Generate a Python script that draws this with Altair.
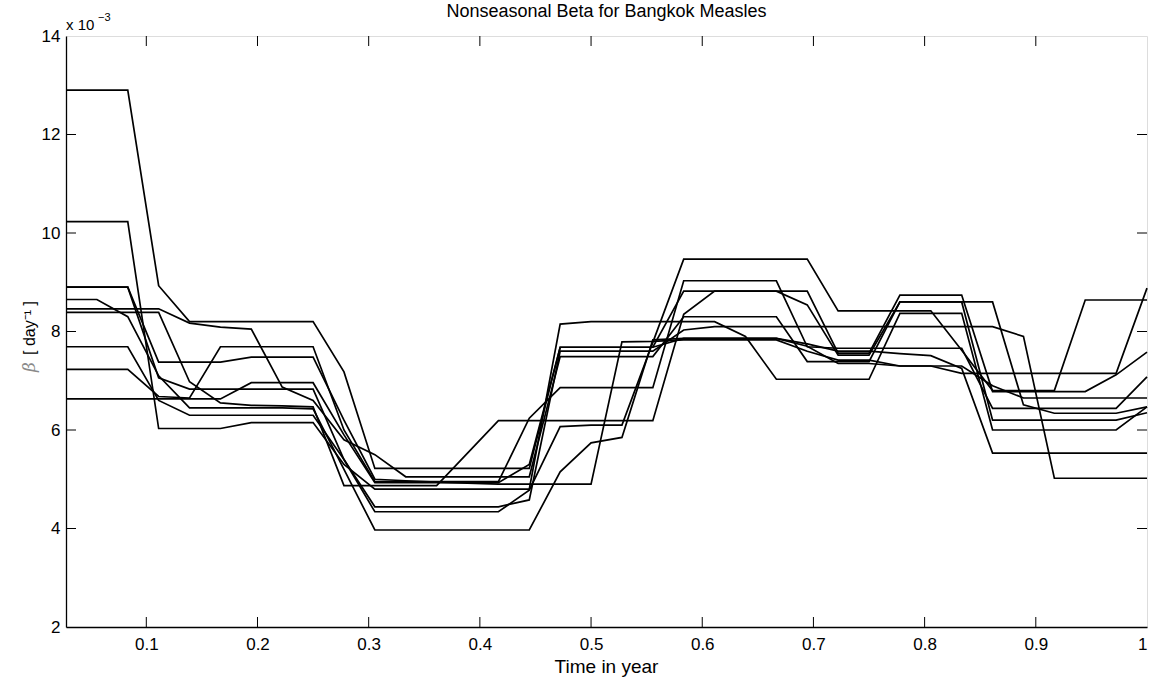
import altair as alt
import pandas as pd

# time grid (fraction of year), 36 steps
time = [round(k / 36, 5) for k in range(1, 37)]

# beta values (x 1e-3) for each of the 10 runs
line_a = [12.9, 12.9, 12.9, 8.93, 8.2, 8.2, 8.2, 8.2, 8.2, 7.18, 5.22, 5.22, 5.22, 5.22, 5.22, 5.22,
          7.68, 7.68, 7.68, 7.68, 8.82, 8.82, 8.82, 8.82, 8.82, 7.56, 7.56, 8.74, 8.74, 8.74,
          6.78, 6.78, 6.78, 6.78, 7.12, 7.58]
line_b = [10.23, 10.23, 10.23, 6.03, 6.03, 6.03, 6.15, 6.15, 6.15, 5.3, 4.80, 4.80, 4.80, 4.80, 4.80, 4.80,
          8.15, 8.2, 8.2, 8.2, 8.2, 8.2, 7.9, 7.03, 7.03, 7.03, 7.03, 8.37, 8.37, 8.37,
          6.0, 6.0, 6.0, 6.0, 6.0, 6.47]
line_c = [8.46, 8.46, 8.46, 8.46, 8.17, 8.09, 8.05, 6.87, 6.6, 5.8, 5.5, 5.05, 5.05, 5.05, 5.05, 5.05,
          7.49, 7.49, 7.49, 7.49, 8.3, 8.3, 8.3, 8.3, 7.39, 7.39, 7.39, 8.6, 8.6, 8.6,
          6.2, 6.2, 6.2, 6.2, 6.2, 6.35]
line_d = [8.39, 8.39, 8.39, 8.39, 6.98, 6.55, 6.5, 6.49, 6.47, 4.87, 4.87, 4.87, 4.87, 5.53, 6.19, 6.19,
          6.19, 6.19, 6.19, 6.19, 8.35, 8.82, 8.82, 8.82, 8.54, 7.52, 7.52, 8.6, 8.6, 8.6,
          8.6, 6.51, 6.34, 6.34, 6.34, 6.47]
line_e = [8.9, 8.9, 8.9, 7.38, 7.38, 7.38, 7.48, 7.48, 7.48, 6.2, 5.0, 4.97, 4.94, 4.92, 4.9, 4.9,
          4.9, 4.9, 7.79, 7.8, 7.83, 7.83, 7.83, 7.83, 7.6, 7.42, 7.42, 7.3, 7.3, 7.15,
          7.15, 7.15, 7.15, 7.15, 7.15, 8.88]
line_f = [8.9, 8.9, 8.9, 7.06, 6.83, 6.83, 6.83, 6.83, 6.83, 5.4, 4.34, 4.34, 4.34, 4.34, 4.34, 4.78,
          6.07, 6.1, 6.1, 7.78, 9.47, 9.47, 9.47, 9.47, 9.47, 8.42, 8.42, 8.42, 8.42, 7.62,
          6.8, 6.8, 6.8, 8.64, 8.64, 8.64]
line_g = [8.65, 8.65, 8.3, 7.1, 6.45, 6.45, 6.45, 6.45, 6.43, 5.2, 3.97, 3.97, 3.97, 3.97, 3.97, 3.97,
          5.15, 5.74, 5.85, 7.83, 7.86, 7.86, 7.86, 7.86, 7.75, 7.6, 7.6, 7.55, 7.51, 7.25,
          5.53, 5.53, 5.53, 5.53, 5.53, 5.53]
line_h = [7.69, 7.69, 7.69, 6.6, 6.3, 6.3, 6.3, 6.3, 6.3, 5.4, 4.44, 4.44, 4.44, 4.44, 4.44, 4.58,
          7.6, 7.6, 7.6, 7.6, 8.03, 8.1, 8.1, 8.1, 8.1, 8.1, 8.1, 8.1, 8.1, 8.1,
          8.1, 7.9, 5.02, 5.02, 5.02, 5.02]
line_i = [7.23, 7.23, 7.23, 6.68, 6.65, 7.69, 7.69, 7.69, 7.69, 6.0, 4.95, 4.95, 4.95, 4.95, 4.95, 6.24,
          6.86, 6.86, 6.86, 6.86, 9.03, 9.03, 9.03, 9.03, 7.69, 7.66, 7.66, 7.66, 7.66, 7.66,
          6.44, 6.44, 6.44, 6.44, 6.44, 7.08]
line_j = [6.63, 6.63, 6.63, 6.63, 6.63, 6.63, 6.96, 6.96, 6.96, 5.9, 4.93, 4.93, 4.93, 4.93, 4.93, 5.3,
          7.68, 7.68, 7.68, 7.68, 7.86, 7.86, 7.86, 7.86, 7.7, 7.35, 7.35, 7.3, 7.3, 7.3,
          6.9, 6.65, 6.65, 6.65, 6.65, 6.65]

runs = {"a": line_a, "b": line_b, "c": line_c, "d": line_d, "e": line_e,
        "f": line_f, "g": line_g, "h": line_h, "i": line_i, "j": line_j}

x_ticks = [0.1, 0.2, 0.3, 0.4, 0.5, 0.6, 0.7, 0.8, 0.9, 1.0]
y_ticks = [2, 4, 6, 8, 10, 12, 14]

rows = []
for name, vals in runs.items():
    for t, v in zip(time, vals):
        rows.append({"run": name, "t": t, "v": v})
df = pd.DataFrame(rows)

W, H = 1081, 591
FONT = "Liberation Sans"

xscale = alt.Scale(domain=[time[0], 1.0], nice=False, zero=False)
yscale = alt.Scale(domain=[2, 14], nice=False, zero=False)

lines = alt.Chart(df).mark_line(color="black", strokeWidth=1.7).encode(
    x=alt.X("t:Q", scale=xscale,
            axis=alt.Axis(values=x_ticks, format="~g", tickSize=0, grid=False,
                          labelFontSize=17, labelPadding=9, labelFont=FONT, title=None,
                          domainColor="black", domainWidth=1.3, labelColor="black")),
    y=alt.Y("v:Q", scale=yscale,
            axis=alt.Axis(values=y_ticks, format="d", tickSize=0, grid=False,
                          labelFontSize=17, labelPadding=6, labelFont=FONT, title=None,
                          domainColor="black", domainWidth=1.3, labelColor="black")),
    detail="run:N",
)

xt = pd.DataFrame({"t": x_ticks[:-1]})
yt = pd.DataFrame({"v": y_ticks[1:-1]})

bottom_ticks = alt.Chart(xt).mark_rule(color="black", strokeWidth=1).encode(
    x=alt.X("t:Q", scale=xscale), y=alt.value(H), y2=alt.value(H - 10))
top_ticks = alt.Chart(xt).mark_rule(color="black", strokeWidth=1).encode(
    x=alt.X("t:Q", scale=xscale), y=alt.value(0), y2=alt.value(10))
left_ticks = alt.Chart(yt).mark_rule(color="black", strokeWidth=1).encode(
    y=alt.Y("v:Q", scale=yscale), x=alt.value(0), x2=alt.value(10))
right_ticks = alt.Chart(yt).mark_rule(color="black", strokeWidth=1).encode(
    y=alt.Y("v:Q", scale=yscale), x=alt.value(W), x2=alt.value(W - 10))

title = alt.Chart(pd.DataFrame({"s": ["Nonseasonal Beta for Bangkok Measles"]})).mark_text(
    font=FONT, fontSize=18, color="black", baseline="middle", align="center").encode(
    text="s:N", x=alt.value(W / 2), y=alt.value(-24))

xtitle = alt.Chart(pd.DataFrame({"s": ["Time in year"]})).mark_text(
    font=FONT, fontSize=19, color="black", baseline="middle", align="center").encode(
    text="s:N", x=alt.value(W / 2), y=alt.value(H + 40))

exp_base = alt.Chart(pd.DataFrame({"s": ["x 10"]})).mark_text(
    font=FONT, fontSize=15, color="black", baseline="alphabetic", align="left").encode(
    text="s:N", x=alt.value(0), y=alt.value(-6))
exp_sup = alt.Chart(pd.DataFrame({"s": ["\u22123"]})).mark_text(
    font=FONT, fontSize=11, color="black", baseline="alphabetic", align="left").encode(
    text="s:N", x=alt.value(32), y=alt.value(-15))

ylab_beta = alt.Chart(pd.DataFrame({"s": ["\u03b2"]})).mark_text(
    font="DejaVu Serif", fontStyle="italic", fontSize=17, color="#8a8a8a", angle=270,
    baseline="middle", align="center").encode(
    text="s:N", x=alt.value(-36), y=alt.value(331))
ylab_rest = alt.Chart(pd.DataFrame({"s": ["[ day\u207b\u00b9 ]"]})).mark_text(
    font=FONT, fontSize=16, color="black", angle=270,
    baseline="middle", align="left").encode(
    text="s:N", x=alt.value(-36), y=alt.value(319))

chart = alt.layer(lines, bottom_ticks, top_ticks, left_ticks, right_ticks,
                  title, xtitle, exp_base, exp_sup, ylab_beta, ylab_rest).properties(
    width=W, height=H,
    autosize=alt.AutoSizeParams(type="none"),
    padding={"left": 66, "top": 36, "right": 2, "bottom": 54},
).configure_view(stroke="black", strokeWidth=1.3).configure(background="white")

chart.save("out.html", embed_options={"renderer": "svg", "actions": False})
